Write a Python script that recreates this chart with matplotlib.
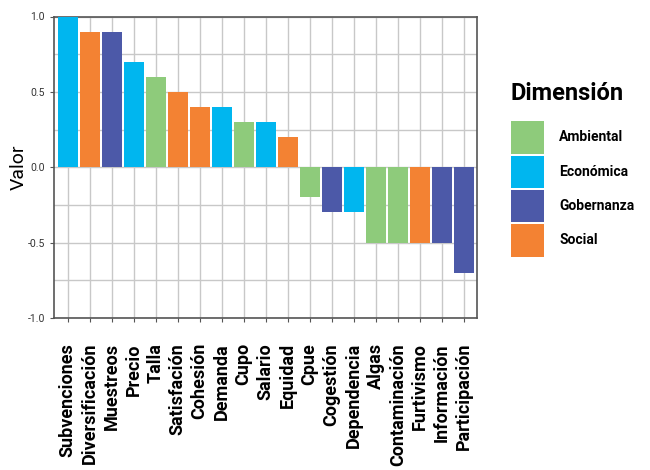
import matplotlib
matplotlib.use("Agg")
import matplotlib.pyplot as plt
from matplotlib.patches import Patch

# data
indicadores = ["Subvenciones", "Diversificación", "Muestreos", "Precio", "Talla",
               "Satisfación", "Cohesión", "Demanda", "Cupo", "Salario", "Equidad",
               "Cpue", "Cogestión", "Dependencia", "Algas", "Contaminación",
               "Furtivismo", "Información", "Participación"]
valores = [1.0, 0.9, 0.9, 0.7, 0.6, 0.5, 0.4, 0.4, 0.3, 0.3, 0.2,
           -0.2, -0.3, -0.3, -0.5, -0.5, -0.5, -0.5, -0.7]
dimension = ["Económica", "Social", "Gobernanza", "Económica", "Ambiental",
             "Social", "Social", "Económica", "Ambiental", "Económica", "Social",
             "Ambiental", "Gobernanza", "Económica", "Ambiental", "Ambiental",
             "Social", "Gobernanza", "Gobernanza"]
dimensiones = ["Ambiental", "Económica", "Gobernanza", "Social"]
colores = {"Ambiental": "#8ecb7b", "Económica": "#00b6ef",
           "Gobernanza": "#4c59a8", "Social": "#f38233"}

plt.rcParams['font.family'] = ['Roboto', 'DejaVu Sans']

fig = plt.figure(figsize=(6.5, 4.7), dpi=100)
ax = fig.add_axes([54/650, 1 - 318/470, (477 - 54)/650, (318 - 16.5)/470])

xs = list(range(len(indicadores)))
ax.bar(xs, valores, width=0.9, color=[colores[d] for d in dimension], zorder=3)

ax.set_xlim(-0.62, 18.6)
ax.set_ylim(-1, 1)
ax.set_yticks([-1.0, -0.5, 0.0, 0.5, 1.0])
ax.set_yticklabels(["-1.0", "-0.5", "0.0", "0.5", "1.0"])
ax.set_yticks([-0.75, -0.25, 0.25, 0.75], minor=True)
ax.set_xticks(xs)
ax.set_xticklabels(indicadores, rotation=90, fontweight='bold', fontsize=13,
                   fontstretch='condensed')
ax.tick_params(axis='x', pad=15, length=3, color='#555555')
ax.tick_params(axis='y', labelsize=7.5, length=3, color='#555555', labelcolor='#333333')
ax.tick_params(axis='y', which='minor', length=0)
ax.grid(True, which='both', color='#c8c8c8', linewidth=1, zorder=0)
for s in ax.spines.values():
    s.set_color('#555555')
    s.set_linewidth(1.2)

ax.set_ylabel("Valor", fontsize=14, labelpad=0)

handles = [Patch(facecolor=colores[d], label=d) for d in dimensiones]
leg = fig.legend(handles=handles, loc='upper left', bbox_to_anchor=(505/650, 1 - 76/470),
                 frameon=False, title="Dimensión", handlelength=2.4, handleheight=3.2,
                 handletextpad=1.1, labelspacing=0.15, borderaxespad=0,
                 prop={'weight': 'bold', 'size': 10})
leg.get_title().set_fontweight('bold')
leg.get_title().set_fontsize(17)
leg._legend_box.align = "left"
leg._legend_box.sep = 12

fig.savefig("out.png", dpi=100)
